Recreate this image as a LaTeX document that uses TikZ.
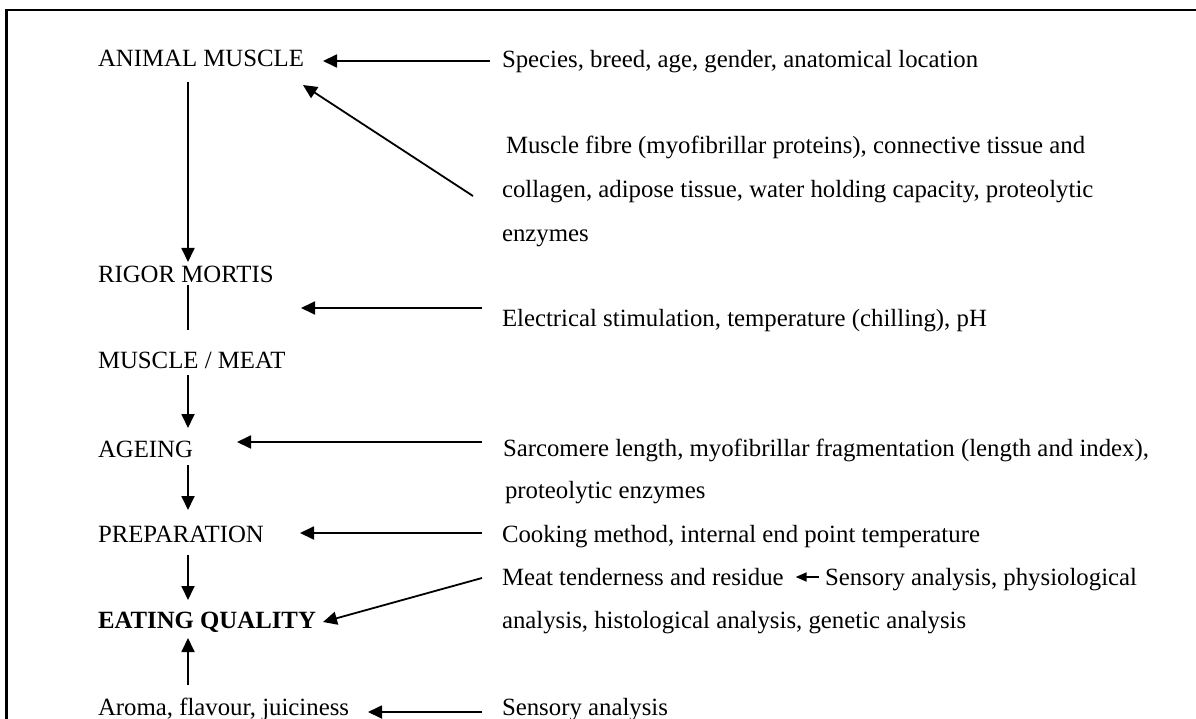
\documentclass[tikz,border=0pt]{standalone}
\usepackage{fontspec}
\setmainfont{Liberation Serif}
\usetikzlibrary{arrows.meta,calc}
\begin{document}
\begin{tikzpicture}[x=1pt,y=-1pt,
  txt/.style={anchor=base west,inner sep=0pt,outer sep=0pt,font=\fontsize{24.8}{30}\selectfont},
  arr/.style={line width=1.8pt,-{Triangle[length=14pt,width=13pt]}},
  arrs/.style={line width=1.8pt,-{Triangle[length=11pt,width=9pt]}},
  plain/.style={line width=1.8pt}]
\useasboundingbox (0,0) rectangle (1196,719);
\fill[white] (0,0) rectangle (1196,719);
\draw[line width=2.4pt] (6.5,719) -- (6.5,10) -- (1196,10);
% left column
\node[txt] (am) at (98,67) {ANIMAL MUSCLE};
\node[txt] (rm) at (98,283) {RIGOR MORTIS};
\node[txt] (mm) at (98,368) {MUSCLE / MEAT};
\node[txt] (ag) at (98,457) {AGEING};
\node[txt] (pr) at (98,542) {PREPARATION};
\node[txt] (eq) at (98,628) {\textbf{EATING QUALITY}};
\node[txt] (ar) at (98,715) {Aroma, flavour, juiciness};
% right column
\node[txt] (sp) at (502,68) {Species, breed, age, gender, anatomical location};
\node[txt] (mf1) at (506,154) {Muscle fibre (myofibrillar proteins), connective tissue and};
\node[txt] (mf2) at (502,198) {collagen, adipose tissue, water holding capacity, proteolytic};
\node[txt] (mf3) at (502,242) {enzymes};
\node[txt] (el) at (502,326) {Electrical stimulation, temperature (chilling), pH};
\node[txt] (sa1) at (503,456) {Sarcomere length, myofibrillar fragmentation (length and index),};
\node[txt] (sa2) at (505,498) {proteolytic enzymes};
\node[txt] (co) at (502,542) {Cooking method, internal end point temperature};
\node[txt] (mt1) at (502,585) {Meat tenderness and residue};
\node[txt] (mt2) at (825,585) {Sensory analysis, physiological};
\node[txt] (mt3) at (502,628) {analysis, histological analysis, genetic analysis};
\node[txt] (se) at (502,715) {Sensory analysis};
% connector end points
\coordinate (c1s) at (490,61);   \coordinate (c1e) at (323,61);
\coordinate (c2s) at (473,196);  \coordinate (c2e) at (303,85);
\coordinate (c3s) at (188,82);   \coordinate (c3e) at (188,262);
\coordinate (c4s) at (188,285);  \coordinate (c4e) at (188,330);
\coordinate (c5s) at (482,308);  \coordinate (c5e) at (301,308);
\coordinate (c6s) at (188,375);  \coordinate (c6e) at (188,428);
\coordinate (c7s) at (482,442);  \coordinate (c7e) at (237,442);
\coordinate (c8s) at (188,465);  \coordinate (c8e) at (188,510);
\coordinate (c9s) at (482,533);  \coordinate (c9e) at (300,533);
\coordinate (c10s) at (188,555); \coordinate (c10e) at (188,600);
\coordinate (c11s) at (482,578); \coordinate (c11e) at (323,622);
\coordinate (c12s) at (188,685); \coordinate (c12e) at (188,638);
\coordinate (c13s) at (482,712); \coordinate (c13e) at (368,712);
\coordinate (c14s) at ($(mt2.base west)+(-6,-8)$);
\coordinate (c14e) at ($(mt1.base east)+(12,-8)$);
% connectors
\draw[arr] (c1s) -- (c1e);
\draw[arr] (c2s) -- (c2e);
\draw[arr] (c3s) -- (c3e);
\draw[plain] (c4s) -- (c4e);
\draw[arr] (c5s) -- (c5e);
\draw[arr] (c6s) -- (c6e);
\draw[arr] (c7s) -- (c7e);
\draw[arr] (c8s) -- (c8e);
\draw[arr] (c9s) -- (c9e);
\draw[arr] (c10s) -- (c10e);
\draw[arr] (c11s) -- (c11e);
\draw[arr] (c12s) -- (c12e);
\draw[arr] (c13s) -- (c13e);
\draw[arrs] (c14s) -- (c14e);
\end{tikzpicture}
\end{document}
